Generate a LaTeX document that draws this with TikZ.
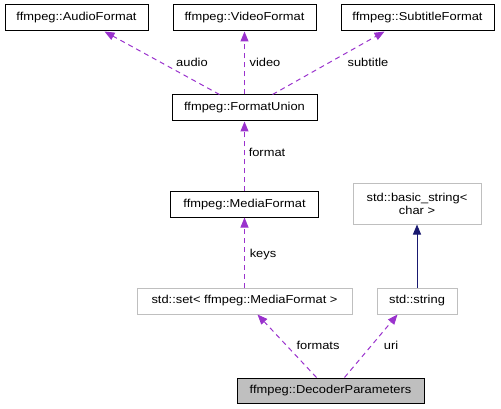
\documentclass[tikz,border=0pt]{standalone}
\usepackage{fontspec}
\setmainfont{Liberation Sans}
\newfontfamily\dotfont[FakeStretch=1.12]{Liberation Sans}
\usetikzlibrary{arrows.meta}
\definecolor{dep}{HTML}{9A32CD}
\definecolor{inh}{HTML}{191970}
\definecolor{gborder}{HTML}{BFBFBF}
\begin{document}
\begin{tikzpicture}[x=1pt,y=-1pt,
  box/.style={draw=black,line width=1pt,minimum height=26pt,inner sep=0pt,font=\dotfont\fontsize{11.5}{13}\selectfont,align=center},
  gbox/.style={box,draw=gborder},
  lbl/.style={font=\dotfont\fontsize{11.5}{13}\selectfont,inner sep=0pt},
  depline/.style={draw=dep,line width=1pt,dash pattern=on 5pt off 4pt,-{Triangle[length=10pt,width=8pt,fill=dep]}},
  inhline/.style={draw=inh,line width=1pt,-{Triangle[length=10pt,width=8pt,fill=inh]}}]
\useasboundingbox (0,0) rectangle (501,409);
\node[box,minimum width=143pt] (audio) at (76.5,18) {ffmpeg::AudioFormat};
\node[box,minimum width=143pt] (video) at (244.5,18) {ffmpeg::VideoFormat};
\node[box,minimum width=153pt] (sub) at (417.5,18) {ffmpeg::SubtitleFormat};
\node[box,minimum width=145pt] (fu) at (244.5,108) {ffmpeg::FormatUnion};
\node[box,minimum width=148pt,minimum height=25pt] (mf) at (244.5,204.5) {ffmpeg::MediaFormat};
\node[gbox,minimum width=128pt,minimum height=40pt] (bs) at (417,204) {std::basic\_string\textless\\char \textgreater};
\node[gbox,minimum width=215pt] (set) at (244.5,301) {std::set\textless{} ffmpeg::MediaFormat \textgreater};
\node[gbox,minimum width=80pt] (str) at (417,301) {std::string};
\node[box,fill=gborder,minimum width=187pt,minimum height=25pt] (dp) at (330.5,390.5) {ffmpeg::DecoderParameters};
\draw[depline] ([xshift=48pt]fu.north west) -- ([xshift=100pt]audio.south west);
\draw[depline] (fu.north) -- (video.south);
\draw[depline] ([xshift=101pt]fu.north west) -- ([xshift=44pt]sub.south west);
\draw[depline] (mf.north) -- (fu.south);
\draw[depline] (set.north) -- (mf.south);
\draw[inhline] (str.north) -- (bs.south);
\draw[depline] ([xshift=80pt]dp.north west) -- ([xshift=121pt]set.south west);
\draw[depline] ([xshift=108pt]dp.north west) -- ([xshift=21pt]str.south west);
\node[lbl] (laudio) at (192,62) {audio};
\node[lbl] (lvideo) at (265,62) {video};
\node[lbl] (lsub) at (368,62) {subtitle};
\node[lbl] (lformat) at (267,152) {format};
\node[lbl] (lkeys) at (263,255) {keys};
\node[lbl] (lformats) at (318,345) {formats};
\node[lbl] (luri) at (391,345) {uri};
\end{tikzpicture}
\end{document}
